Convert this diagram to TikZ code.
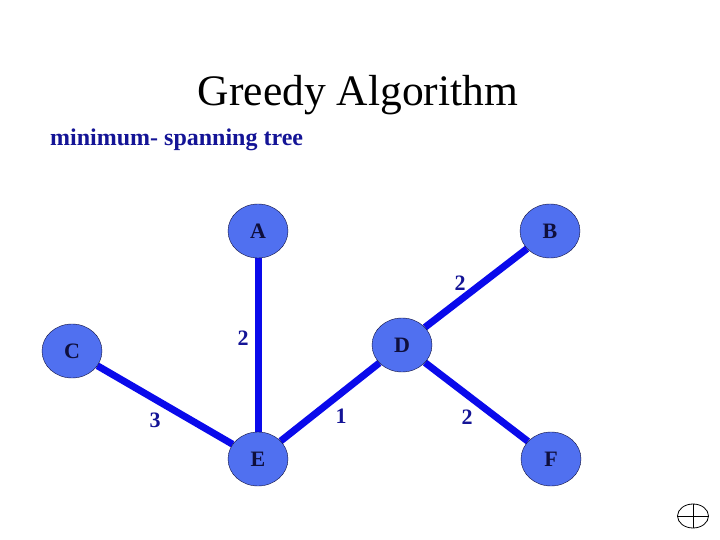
\documentclass[tikz,border=0pt]{standalone}
\usepackage{fontspec}
\setmainfont{Liberation Serif}
\usepackage{xcolor}
\usepackage{tikz}
\usetikzlibrary{shapes.geometric,backgrounds}
\definecolor{nodeblue}{RGB}{80,112,240}
\definecolor{edgeblue}{RGB}{10,10,235}
\definecolor{inkblue}{RGB}{20,20,150}
\definecolor{navy}{RGB}{15,15,60}

\begin{document}
\begin{tikzpicture}[x=1pt, y=-1pt,
  vert/.style={ellipse, draw=navy, fill=nodeblue, minimum width=60pt, minimum height=54pt,
    inner sep=0pt, text=navy, font=\fontsize{22}{26}\selectfont\bfseries},
  tree/.style={draw=edgeblue, line width=7pt},
  wt/.style={text=inkblue, font=\fontsize{22}{26}\selectfont\bfseries, inner sep=0pt}]
  \useasboundingbox (0,0) rectangle (720,540);
  % heading
  \node (title) at (358,95) {\fontsize{43.5}{50}\selectfont Greedy Algorithm};
  \node[anchor=west, text=inkblue, inner sep=0pt] (sub) at (50,140)
    {\fontsize{24}{28}\selectfont\bfseries minimum- spanning tree};
  % vertices
  \node[vert] (a) at (258,231) {A};
  \node[vert] (b) at (550,231) {B};
  \node[vert] (c) at (72,351) {C};
  \node[vert] (d) at (402,345) {D};
  \node[vert] (e) at (258,459) {E};
  \node[vert] (f) at (551,459) {F};
  % tree edges
  \begin{scope}[on background layer]
    \draw[tree] (a) -- (e);
    \draw[tree] (b) -- (d);
    \draw[tree] (c) -- (e);
    \draw[tree] (d) -- (e);
    \draw[tree] (d) -- (f);
  \end{scope}
  % weights
  \node[wt] (wae) at (243,338) {2};
  \node[wt] (wbd) at (460,283) {2};
  \node[wt] (wce) at (155,420) {3};
  \node[wt] (wde) at (341,416) {1};
  \node[wt] (wdf) at (467,417) {2};
  % corner mark
  \node[ellipse, draw, thick, minimum width=31pt, minimum height=24pt, inner sep=0pt] (mark) at (693,516) {};
  \draw[thick] (mark.north) -- (mark.south);
  \draw[thick] (mark.west) -- (mark.east);
\end{tikzpicture}
\end{document}
